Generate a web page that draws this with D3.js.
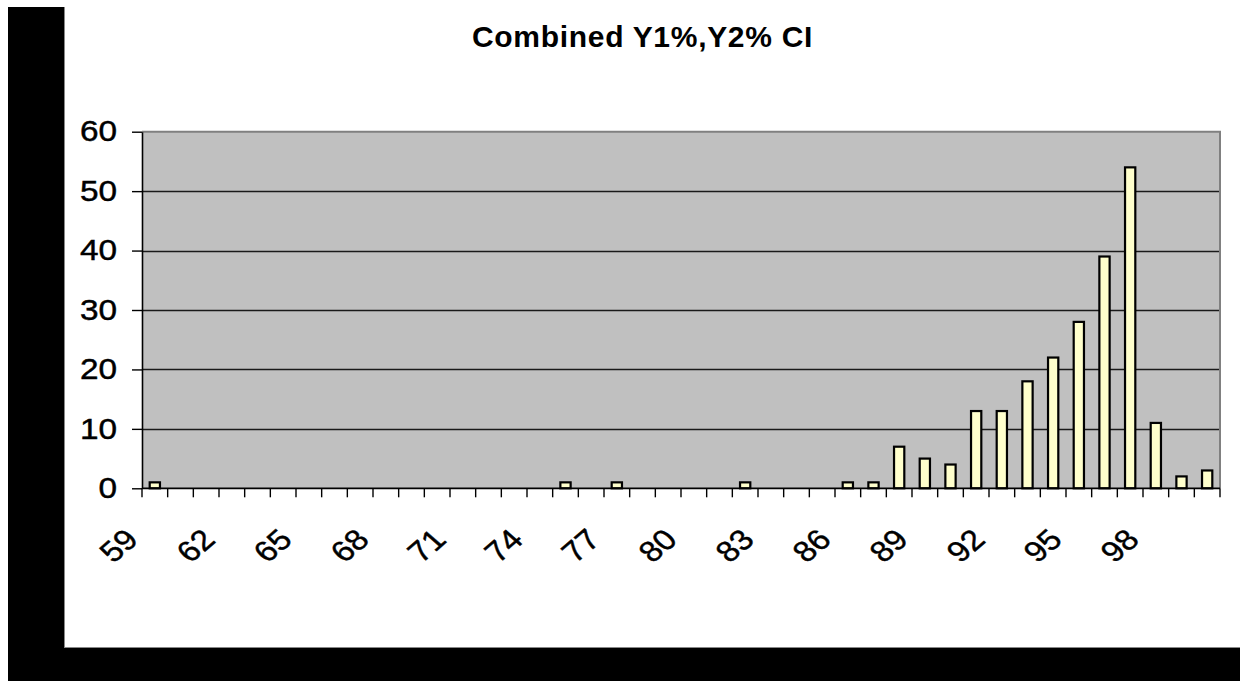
<!DOCTYPE html>
<html>
<head>
<meta charset="utf-8">
<script src="https://cdn.jsdelivr.net/npm/d3@7"></script>
<style>
  html, body { margin: 0; padding: 0; background: #fff; }
  svg { display: block; }
  text { font-family: "Liberation Sans", Arial, sans-serif; fill: #000; }
  .axis-label { stroke: #000; stroke-width: 0.45px; }
</style>
</head>
<body>
<svg id="chart" width="1243" height="681"></svg>
<script>
// Distribution of combined Y1%, Y2% CI values (count per integer bin)
const categories = [59, 60, 61, 62, 63, 64, 65, 66, 67, 68, 69, 70, 71, 72, 73, 74, 75, 76, 77, 78, 79,
                    80, 81, 82, 83, 84, 85, 86, 87, 88, 89, 90, 91, 92, 93, 94, 95, 96, 97, 98, 99, 100];
const counts =     [1, 0, 0, 0, 0, 0, 0, 0, 0, 0, 0, 0, 0, 0, 0, 0, 1, 0, 1, 0, 0,
                    0, 0, 1, 0, 0, 0, 1, 1, 7, 5, 4, 13, 13, 18, 22, 28, 39, 54, 11, 2, 3];
const xTickLabels = [59, 62, 65, 68, 71, 74, 77, 80, 83, 86, 89, 92, 95, 98];
const yTickValues = [0, 10, 20, 30, 40, 50, 60];
const titleText = "Combined Y1%,Y2% CI";

const svg = d3.select("#chart");

// Frame: black strips on the left and bottom
svg.append("rect").attr("x", 8).attr("y", 7).attr("width", 56).attr("height", 674).attr("fill", "#000");
svg.append("rect").attr("x", 8).attr("y", 648).attr("width", 1232).attr("height", 33).attr("fill", "#000");
svg.append("line").attr("x1", 64.5).attr("x2", 64.5).attr("y1", 7).attr("y2", 648).attr("stroke", "#888").attr("stroke-width", 1);
svg.append("line").attr("x1", 64).attr("x2", 1240).attr("y1", 647.5).attr("y2", 647.5).attr("stroke", "#888").attr("stroke-width", 1);

const plot = { left: 142, right: 1220, top: 131.7, bottom: 488.3 };
const labelStretch = 1.15; // axis labels are drawn slightly wide

const x = d3.scaleBand()
  .domain(categories)
  .range([plot.left, plot.right])
  .paddingInner(0.6)
  .paddingOuter(0.3);

const y = d3.scaleLinear().domain([0, 60]).range([plot.bottom, plot.top]);

// Plot area background
svg.append("rect")
  .attr("x", plot.left).attr("y", plot.top)
  .attr("width", plot.right - plot.left).attr("height", plot.bottom - plot.top)
  .attr("fill", "#c0c0c0");

// Gridlines
svg.append("g").selectAll("line")
  .data(yTickValues.filter(v => v > 0 && v < 60))
  .join("line")
  .attr("x1", plot.left).attr("x2", plot.right)
  .attr("y1", d => Math.round(y(d)) + 0.5).attr("y2", d => Math.round(y(d)) + 0.5)
  .attr("stroke", "#1a1a1a").attr("stroke-width", 1.5);

// Plot border (top and right)
svg.append("path")
  .attr("d", `M${plot.left},${plot.top} H${plot.right} V${plot.bottom}`)
  .attr("fill", "none").attr("stroke", "#808080").attr("stroke-width", 2);

// Bars
svg.append("g").selectAll("rect")
  .data(categories.map((c, i) => ({ c, v: counts[i] })).filter(d => d.v > 0))
  .join("rect")
  .attr("x", d => x(d.c))
  .attr("y", d => y(d.v))
  .attr("width", x.bandwidth())
  .attr("height", d => y(0) - y(d.v))
  .attr("fill", "#ffffcc")
  .attr("stroke", "#000")
  .attr("stroke-width", 2.2);

// Y axis
const yAxis = svg.append("g")
  .attr("transform", `translate(${plot.left},0)`)
  .call(d3.axisLeft(y).tickValues(yTickValues).tickSize(10).tickPadding(0).tickSizeOuter(0));
yAxis.select(".domain").attr("stroke", "#000").attr("stroke-width", 1.6);
yAxis.selectAll(".tick line").attr("stroke", "#000").attr("stroke-width", 1.4);
yAxis.selectAll(".tick text")
  .attr("x", null)
  .attr("class", "axis-label")
  .attr("transform", `translate(-25,0) scale(${labelStretch},1)`)
  .style("font-family", "'Liberation Sans', Arial, sans-serif")
  .style("font-size", "29px")
  .attr("fill", "#000");

// X axis line and category boundary ticks
const boundaries = d3.range(categories.length + 1).map(i => plot.left + (plot.right - plot.left) * i / categories.length);
svg.append("line")
  .attr("x1", plot.left).attr("x2", plot.right)
  .attr("y1", plot.bottom).attr("y2", plot.bottom)
  .attr("stroke", "#000").attr("stroke-width", 1.8);
svg.append("g").selectAll("line")
  .data(boundaries)
  .join("line")
  .attr("x1", d => d).attr("x2", d => d)
  .attr("y1", plot.bottom).attr("y2", plot.bottom + 9)
  .attr("stroke", "#000").attr("stroke-width", 1.4);

// Rotated category labels
svg.append("g").selectAll("text")
  .data(xTickLabels)
  .join("text")
  .attr("class", "axis-label")
  .attr("transform", d => `translate(${x(d) + x.bandwidth() / 2 - 15},${plot.bottom + 53}) scale(${labelStretch},1) rotate(-45)`)
  .attr("text-anchor", "end")
  .style("font-size", "29px")
  .text(d => d);

// Title
svg.append("text")
  .attr("x", 642.5).attr("y", 47)
  .attr("text-anchor", "middle")
  .style("font-size", "30px")
  .style("font-weight", "bold")
  .style("letter-spacing", "0.7px")
  .text(titleText);
</script>
</body>
</html>
